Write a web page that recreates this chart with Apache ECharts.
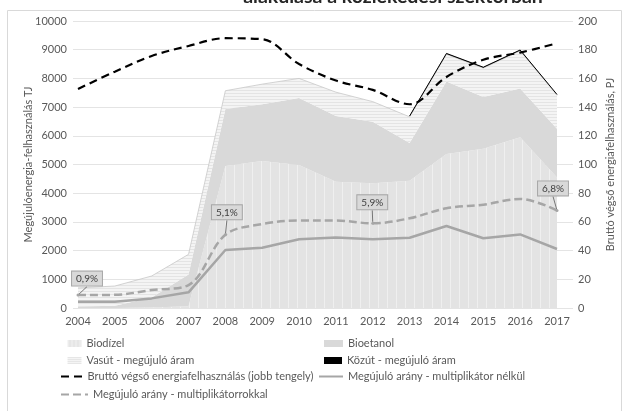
<!DOCTYPE html>
<html>
<head>
<meta charset="utf-8">
<script src="https://cdn.jsdelivr.net/npm/echarts@6/dist/echarts.min.js"></script>
<style>
  html, body { margin: 0; padding: 0; background: #fff; }
  #chart { width: 624px; height: 411px; }
</style>
</head>
<body>
<div id="chart"></div>
<script>
// Years on the category axis
const years = ['2004', '2005', '2006', '2007', '2008', '2009', '2010',
               '2011', '2012', '2013', '2014', '2015', '2016', '2017'];

// Renewable energy use in transport, TJ (stacked areas, left axis)
const biodizel = [0, 0, 20, 60, 4950, 5120, 4980, 4400, 4350, 4430, 5370, 5550, 5950, 4550];
const bioetanol = [50, 80, 350, 1110, 1980, 1980, 2340, 2290, 2140, 1320, 2520, 1800, 1700, 1700];
const vasut = [650, 685, 745, 700, 640, 700, 680, 830, 700, 910, 950, 1010, 1310, 1160];
const kozut = [null, null, null, null, null, null, null, null, null, 30, 30, 30, 30, 30];

// Gross final energy consumption of transport, PJ (right axis)
const brutto = [152.6, 164.7, 175.6, 182.6, 188, 187.3, 170, 158.5, 152, 142, 161, 173, 178, 184.5];

// Renewable share, %
const aranyNelkul = [0.44, 0.44, 0.67, 1.09, 4.04, 4.2, 4.79, 4.92, 4.79, 4.9, 5.71, 4.86, 5.13, 4.11];
const aranyMulti = [0.9, 0.92, 1.25, 1.6, 5.1, 5.85, 6.1, 6.1, 5.9, 6.25, 6.95, 7.2, 7.6, 6.8];

// Years whose share gets a callout
const calloutYears = ['2004', '2008', '2012', '2017'];

// Tick labels
const leftTicks = { min: 0, max: 10000, interval: 1000 };
const rightTicks = { min: 0, max: 200, interval: 20 };

const FONT = 'Lato';
const TEXT = '#595959';
const HIDDEN = 'rgba(0,0,0,0)';

function stripePattern(w, h, bg, fg, vertical) {
  const c = document.createElement('canvas');
  c.width = w; c.height = h;
  const g = c.getContext('2d');
  g.fillStyle = bg; g.fillRect(0, 0, w, h);
  g.fillStyle = fg;
  if (vertical) g.fillRect(0, 0, 1, h); else g.fillRect(0, 0, w, 1);
  return { image: c, repeat: 'repeat' };
}

const biodizelFill = stripePattern(9, 4, '#e3e3e3', '#efefef', true);
const vasutFill = stripePattern(4, 3, '#f4f4f4', '#e4e4e4', false);
const biodizelSwatch = stripePattern(4, 4, '#e6e6e6', '#f3f3f3', true);
const vasutSwatch = stripePattern(4, 2, '#f4f4f4', '#e6e6e6', false);

// Offsets of the callout boxes from their default place above the point
const calloutShift = { 0: [9, -3], 4: [1.5, -9], 8: [-0.5, -7.5], 13: [-4, -8.5] };

const multiData = aranyMulti.map((v, i) =>
  calloutYears.includes(years[i])
    ? { value: v, symbol: 'circle', symbolSize: 3, label: { show: true } }
    : v);

const chart = echarts.init(document.getElementById('chart'), null, { renderer: 'canvas' });

function legendItem(name, left, top, w, h, icon, color) {
  const item = { name: name };
  if (icon) {
    item.icon = icon;
    item.itemStyle = { color: color, borderWidth: 0 };
  } else {
    // line sample only, no marker in the middle
    item.itemStyle = { color: HIDDEN, borderColor: HIDDEN, borderWidth: 0, opacity: 0 };
  }
  return {
    data: [item], left: left, top: top, itemWidth: w, itemHeight: h,
    selectedMode: false, padding: 0,
    textStyle: { fontFamily: FONT, fontSize: 11, color: TEXT }
  };
}

const option = {
  animation: false,
  textStyle: { fontFamily: FONT },
  graphic: [
    { type: 'rect', silent: true, z: -10,
      shape: { x: 7.5, y: 10.5, width: 614, height: 420 },
      style: { fill: 'none', stroke: '#d9d9d9', lineWidth: 1 } },
    { type: 'text', silent: true,
      style: { text: 'alakulása a közlekedési szektorban', x: 393, y: 7,
               align: 'center', verticalAlign: 'bottom',
               font: 'bold 19.5px Lato', fill: '#262626' } }
  ],
  legend: [
    legendItem('Biodízel', 67.5, 338, 14, 7, 'rect', biodizelSwatch),
    legendItem('Vasút - megújuló áram', 67.5, 355, 14, 7, 'rect', vasutSwatch),
    legendItem('Bruttó végső energiafelhasználás (jobb tengely)', 60, 371, 21.5, 10),
    legendItem('Megújuló arány - multiplikátorrokkal', 60, 389, 27, 10),
    legendItem('Bioetanol', 324, 338, 19, 7, 'rect', '#d9d9d9'),
    legendItem('Közút - megújuló áram', 324, 355, 18, 7, 'rect', '#000000'),
    legendItem('Megújuló arány - multiplikátor nélkül', 318, 371, 24, 10)
  ],
  grid: [
    { left: 78, right: 67, top: 21, bottom: 103 },
    { left: 73, right: 49, top: 21, bottom: 103 }
  ],
  xAxis: [
    { gridIndex: 0, type: 'category', data: years, boundaryGap: false,
      axisLine: { show: false }, axisTick: { show: false }, splitLine: { show: false },
      axisLabel: { interval: 0, margin: 8, fontFamily: FONT, fontSize: 11, color: TEXT } },
    { gridIndex: 1, type: 'value', min: 0, max: 1, show: false }
  ],
  yAxis: [
    { gridIndex: 0, type: 'value', min: leftTicks.min, max: leftTicks.max, show: false },
    { gridIndex: 0, type: 'value', min: rightTicks.min, max: rightTicks.max, show: false },
    { gridIndex: 0, type: 'value', min: 0, max: 20, show: false },
    { gridIndex: 1, type: 'value', position: 'left',
      min: leftTicks.min, max: leftTicks.max, interval: leftTicks.interval,
      name: 'Megújulóenergia-felhasználás TJ', nameLocation: 'middle', nameGap: 39,
      nameMoveOverlap: false,
      nameTextStyle: { fontFamily: FONT, fontSize: 11, color: TEXT },
      axisLine: { show: false }, axisTick: { show: false },
      axisLabel: { margin: 6, fontFamily: FONT, fontSize: 11, color: TEXT,
                   formatter: v => String(v) },
      splitLine: { lineStyle: { color: '#e4e4e4', width: 1 } } },
    { gridIndex: 1, type: 'value', position: 'right',
      min: rightTicks.min, max: rightTicks.max, interval: rightTicks.interval,
      name: 'Bruttó végső energiafelhasználás, PJ', nameLocation: 'middle', nameGap: 32,
      nameMoveOverlap: false, nameRotate: 90,
      nameTextStyle: { fontFamily: FONT, fontSize: 11, color: TEXT },
      axisLine: { show: false }, axisTick: { show: false },
      axisLabel: { margin: 5, fontFamily: FONT, fontSize: 11, color: TEXT,
                   formatter: v => String(v) },
      splitLine: { show: false } }
  ],
  series: [
    { name: 'Biodízel', type: 'line', stack: 'tj', data: biodizel,
      xAxisIndex: 0, yAxisIndex: 0, symbol: 'none', z: 1,
      itemStyle: { color: '#e6e6e6' }, lineStyle: { width: 0 },
      areaStyle: { color: biodizelFill, opacity: 1 } },
    { name: 'Bioetanol', type: 'line', stack: 'tj', data: bioetanol,
      xAxisIndex: 0, yAxisIndex: 0, symbol: 'none', z: 1,
      itemStyle: { color: '#d9d9d9' }, lineStyle: { width: 0 },
      areaStyle: { color: '#d9d9d9', opacity: 1 } },
    { name: 'Vasút - megújuló áram', type: 'line', stack: 'tj', data: vasut,
      xAxisIndex: 0, yAxisIndex: 0, symbol: 'none', z: 1,
      itemStyle: { color: '#f1f1f1' }, lineStyle: { width: 0.8, color: '#c8c8c8' },
      areaStyle: { color: vasutFill, opacity: 1 } },
    { name: 'Közút - megújuló áram', type: 'line', stack: 'tj', data: kozut,
      xAxisIndex: 0, yAxisIndex: 0, symbol: 'none', z: 1,
      itemStyle: { color: '#000' }, lineStyle: { width: 1, color: '#000' },
      areaStyle: { color: '#000', opacity: 1 } },
    { name: 'Bruttó végső energiafelhasználás (jobb tengely)', type: 'line', data: brutto,
      xAxisIndex: 0, yAxisIndex: 1, symbol: 'none', smooth: 0.35, z: 5,
      itemStyle: { color: '#000' },
      lineStyle: { color: '#000', width: 2.2, type: [8, 5] } },
    { name: 'Megújuló arány - multiplikátor nélkül', type: 'line', data: aranyNelkul,
      xAxisIndex: 0, yAxisIndex: 2, symbol: 'none', z: 4,
      itemStyle: { color: '#a6a6a6' },
      lineStyle: { color: '#a6a6a6', width: 2.5 } },
    { name: 'Megújuló arány - multiplikátorrokkal', type: 'line', data: multiData,
      xAxisIndex: 0, yAxisIndex: 2, symbol: 'none', smooth: 0.35, z: 4,
      itemStyle: { color: '#a6a6a6' },
      lineStyle: { color: '#a6a6a6', width: 2.5, type: [8, 4] },
      label: {
        show: false, position: 'top', distance: 5,
        formatter: p => String(p.value).replace('.', ',') + '%',
        fontFamily: FONT, fontSize: 10, color: '#404040', lineHeight: 12,
        backgroundColor: '#d9d9d9', borderColor: '#a6a6a6', borderWidth: 1,
        padding: [1, 4]
      },
      labelLine: { show: true, lineStyle: { color: '#595959', width: 0.8 } },
      labelLayout: p => {
        const s = calloutShift[p.dataIndex];
        return s ? { dx: s[0], dy: s[1] } : {};
      } }
  ]
};

chart.setOption(option);
</script>
</body>
</html>
